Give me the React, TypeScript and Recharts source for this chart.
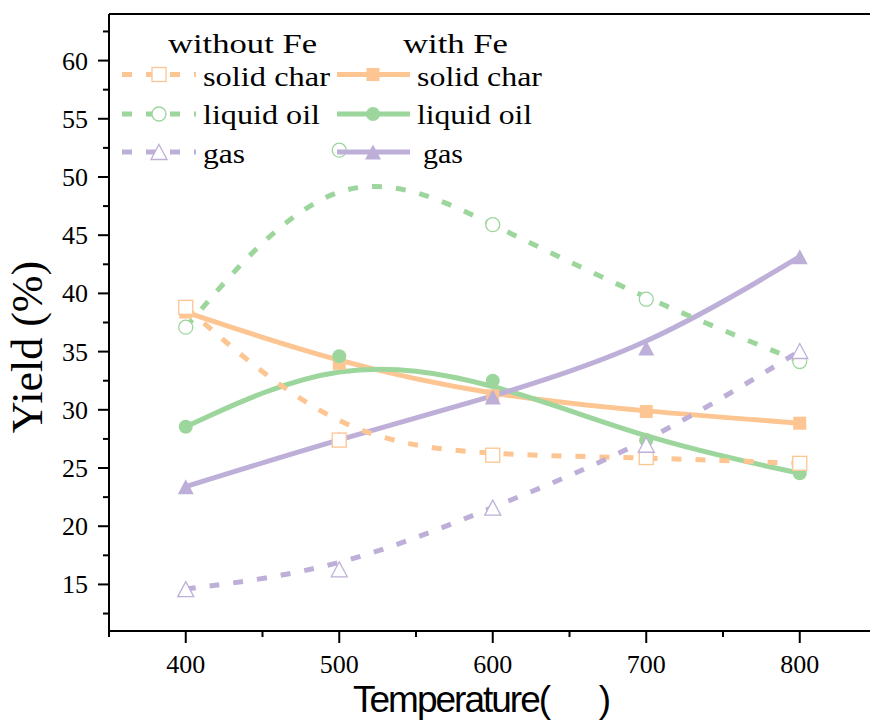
import React from "react"
import { LineChart, Line, XAxis, YAxis, ReferenceLine } from "recharts"

// temperatures (°C) and yields (%)
const temperature = [400, 500, 600, 700, 800]
const charWithout = [38.8, 27.4, 26.1, 25.9, 25.4]
const oilWithout = [37.1, 52.3, 45.9, 39.5, 34.15]
const gasWithout = [14.6, 16.3, 21.6, 27.0, 35.05]
const charWith = [38.4, 34.0, 31.2, 29.85, 28.85]
const oilWith = [28.55, 34.6, 32.5, 27.4, 24.55]
const gasWith = [23.4, 27.5, 31.1, 35.3, 43.15]

const xTicks = [350, 400, 450, 500, 550, 600, 650, 700, 750, 800, 850]
const yTicks = [12.5, 15, 17.5, 20, 22.5, 25, 27.5, 30, 32.5, 35, 37.5, 40, 42.5, 45, 47.5, 50, 52.5, 55, 57.5, 60, 62.5]
const xLabelled = [400, 500, 600, 700, 800]

const ORANGE = "#FDC592"
const GREEN = "#9CD69C"
const PURPLE = "#BEAFD8"
const SERIF = "Liberation Serif, Times New Roman, Times, Tinos, serif"
const SANS = "Liberation Sans, Arial, Helvetica, Arimo, sans-serif"
const DASH = "10 14"

type Shape = "square" | "circle" | "triangle"

const series = [
  { key: "charWith", name: "solid char", values: charWith, color: ORANGE, shape: "square" as Shape, filled: true },
  { key: "oilWith", name: "liquid oil", values: oilWith, color: GREEN, shape: "circle" as Shape, filled: true },
  { key: "gasWith", name: "gas", values: gasWith, color: PURPLE, shape: "triangle" as Shape, filled: true },
  { key: "charWithout", name: "solid char", values: charWithout, color: ORANGE, shape: "square" as Shape, filled: false },
  { key: "oilWithout", name: "liquid oil", values: oilWithout, color: GREEN, shape: "circle" as Shape, filled: false },
  { key: "gasWithout", name: "gas", values: gasWithout, color: PURPLE, shape: "triangle" as Shape, filled: false },
]

const data = temperature.map((t, i) => {
  const row: any = { t }
  series.forEach((s) => (row[s.key] = s.values[i]))
  return row
})

const serifText = { fontFamily: SERIF, fill: "#000" }

function Marker({ shape, cx, cy, color, filled }: any) {
  const fill = filled ? color : "#fff"
  const sw = filled ? 0 : 1.3
  if (shape === "square") {
    const h = filled ? 6.5 : 7
    return <rect x={cx - h} y={cy - h} width={2 * h} height={2 * h} fill={fill} stroke={color} strokeWidth={sw} />
  }
  if (shape === "circle") {
    return <circle cx={cx} cy={cy} r={7} fill={fill} stroke={color} strokeWidth={sw} />
  }
  return (
    <polygon
      points={`${cx},${cy - 7.5} ${cx + 8},${cy + 7.5} ${cx - 8},${cy + 7.5}`}
      fill={fill}
      stroke={color}
      strokeWidth={sw}
    />
  )
}

const makeDot = (s: any) => (p: any) =>
  <Marker key={`${s.key}-${p.index}`} shape={s.shape} cx={p.cx} cy={p.cy} color={s.color} filled={s.filled} />

const YTick = (props: any) => {
  const { x, y, payload } = props
  const v = payload.value
  const major = v % 5 === 0
  const axisX = x + 21
  return (
    <g>
      <line x1={axisX - (major ? 11 : 6)} x2={axisX} y1={y} y2={y} stroke="#000" strokeWidth={2} />
      {major && (
        <text x={x} y={y + 9} textAnchor="end" style={{ ...serifText, fontSize: 26 }}>
          {v}
        </text>
      )}
    </g>
  )
}

const XTick = (props: any) => {
  const { x, y, payload } = props
  const v = payload.value
  const major = xLabelled.includes(v)
  const axisY = y - 20
  return (
    <g>
      <line x1={x} x2={x} y1={axisY} y2={axisY + (major ? 12 : 6)} stroke="#000" strokeWidth={2} />
      {major && (
        <text x={x} y={y + 22} textAnchor="middle" style={{ ...serifText, fontSize: 26 }}>
          {v}
        </text>
      )}
    </g>
  )
}

// legend rows: textLength, symbol centre, text baseline
const leftCol = [
  { s: series[3], tl: 127, cy: 74.5, base: 86 },
  { s: series[4], tl: 117, cy: 114, base: 124 },
  { s: series[5], tl: 42, cy: 152, base: 163 },
]
const rightCol = [
  { s: series[0], tl: 125, cy: 74.5, base: 86 },
  { s: series[1], tl: 115, cy: 114, base: 124 },
  { s: series[2], tl: 40, cy: 152, base: 163 },
]

function Overlay() {
  const legendText = { ...serifText, fontSize: 28 }
  return (
    <svg width={870} height={722} style={{ position: "absolute", left: 0, top: 0, pointerEvents: "none" }}>
      <text x={168} y={53} style={legendText} textLength={149} lengthAdjust="spacingAndGlyphs">
        without Fe
      </text>
      <text x={403} y={53} style={legendText} textLength={105} lengthAdjust="spacingAndGlyphs">
        with Fe
      </text>
      {leftCol.map((r) => (
        <g key={r.s.key}>
          <line x1={122} x2={196} y1={r.cy} y2={r.cy} stroke={r.s.color} strokeWidth={5} strokeDasharray={DASH} />
          <Marker shape={r.s.shape} cx={159} cy={r.cy} color={r.s.color} filled={false} />
          <text x={203} y={r.base} style={legendText} textLength={r.tl} lengthAdjust="spacingAndGlyphs">
            {r.s.name}
          </text>
        </g>
      ))}
      {rightCol.map((r) => (
        <g key={r.s.key}>
          <line x1={337} x2={410} y1={r.cy} y2={r.cy} stroke={r.s.color} strokeWidth={5} />
          <Marker shape={r.s.shape} cx={373} cy={r.cy} color={r.s.color} filled />
          <text x={r.s.name === "gas" ? 423 : 417} y={r.base} style={legendText} textLength={r.tl} lengthAdjust="spacingAndGlyphs">
            {r.s.name}
          </text>
        </g>
      ))}
      <text transform="translate(42,347) rotate(-90)" textAnchor="middle" style={{ ...serifText, fontSize: 44 }}>
        Yield (%)
      </text>
      <text x={353} y={712} style={{ fontFamily: SANS, fontSize: 37, fill: "#000", letterSpacing: -2 }}>
        {"Temperature(\u00A0\u00A0\u00A0\u00A0\u00A0\u00A0)"}
      </text>
    </svg>
  )
}

export default function App() {
  return (
    <div style={{ position: "absolute", left: 0, top: 0, width: 870, height: 722, overflow: "hidden", background: "#fff" }}>
      <LineChart width={890} height={722} data={data} margin={{ top: 14, right: 13.5, left: 0, bottom: 0 }}>
        <XAxis
          dataKey="t"
          type="number"
          domain={[350, 850]}
          ticks={xTicks}
          interval={0}
          height={91}
          tickSize={12}
          tickMargin={8}
          tickLine={false}
          tick={<XTick />}
          axisLine={{ stroke: "#000", strokeWidth: 2 }}
        />
        <YAxis
          type="number"
          domain={[11, 64]}
          ticks={yTicks}
          interval={0}
          width={109}
          tickSize={11}
          tickMargin={10}
          tickLine={false}
          tick={<YTick />}
          axisLine={{ stroke: "#000", strokeWidth: 2 }}
        />
        <ReferenceLine y={64} stroke="#000" strokeWidth={2} />
        {series.map((s) => (
          <Line
            key={s.key}
            dataKey={s.key}
            type="basis"
            stroke={s.color}
            strokeWidth={5}
            strokeDasharray={s.filled ? undefined : DASH}
            dot={makeDot(s)}
            activeDot={false}
            isAnimationActive={false}
          />
        ))}
      </LineChart>
      <Overlay />
    </div>
  )
}
